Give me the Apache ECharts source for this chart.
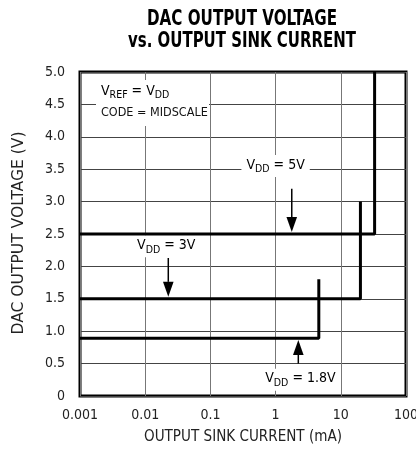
<!DOCTYPE html>
<html><head><meta charset="utf-8">
<script src="https://cdn.jsdelivr.net/npm/echarts@6/dist/echarts.min.js"></script>
<style>html,body{margin:0;padding:0;background:#fff}#c{width:416px;height:454px}</style>
</head><body><div id="c"></div>
<script>
const FONT = "'Liberation Sans Narrow','DejaVu Sans Condensed','Liberation Sans',sans-serif";
const xTicks = [0.001, 0.01, 0.1, 1, 10, 100];
const xTickLabels = ['0.001', '0.01', '0.1', '1', '10', '100'];
const yTickLabels = ['0', '0.5', '1.0', '1.5', '2.0', '2.5', '3.0', '3.5', '4.0', '4.5', '5.0'];
// [current mA, voltage V]
const vdd5 = [[0.001, 2.5], [33, 2.5], [33, 5.0]];
const vdd3 = [[0.001, 1.5], [20, 1.5], [20, 3.0]];
const vdd18 = [[0.001, 0.89], [4.6, 0.89], [4.6, 1.8]];
// annotation labels: [x, y, text]
const labels = [
  [1, 3.55, '{m|V}{s|DD}{m| = 5V}'],
  [0.021, 2.31, '{m|V}{s|DD}{m| = 3V}'],
  [2.4, 0.25, '{m|V}{s|DD}{m| = 1.8V}']
];
// arrows: [x, yFrom, yTo(tip)]
const arrows = [
  [1.77, 3.2, 2.53],
  [0.0226, 2.13, 1.53],
  [2.23, 0.5, 0.865]
];

const cv = document.createElement('canvas').getContext('2d');
function textW(t, size, weight) { cv.font = (weight || 'normal') + ' ' + size + 'px ' + FONT; return cv.measureText(t).width; }
const t1 = 'DAC OUTPUT VOLTAGE', t2 = 'vs. OUTPUT SINK CURRENT';
const tSize = 21;
const t1s = 190 / textW(t1, tSize, 'bold');
const t2s = 228 / textW(t2, tSize, 'bold');
const xName = 'OUTPUT SINK CURRENT (mA)', yName = 'DAC OUTPUT VOLTAGE (V)';
const nSize = 15;
const xNs = Math.min(1.3, 198 / textW(xName, nSize));
const yNs = Math.min(1.3, 203 / textW(yName, nSize));

const chart = echarts.init(document.getElementById('c'));
const rich = {
  m: {fontFamily: FONT, fontSize: 14, color: '#000', lineHeight: 16, verticalAlign: 'top'},
  s: {fontFamily: FONT, fontSize: 10.5, color: '#000', lineHeight: 16, verticalAlign: 'top', padding: [6, 0, 0, 0]}
};
const curve = (d) => ({type: 'line', data: d, symbol: 'none', lineStyle: {color: '#000', width: 3}, z: 5, silent: true, animation: false});

chart.setOption({
  animation: false,
  grid: {left: 80, right: 10, top: 72, bottom: 58, show: true, borderColor: '#000', borderWidth: 3,
    outerBoundsMode: 'none', containLabel: false},
  xAxis: {
    type: 'log', logBase: 10, min: 0.001, max: 100,
    axisLine: {show: false}, axisTick: {show: false},
    axisLabel: {fontFamily: FONT, fontSize: 14, color: '#222', margin: 12, hideOverlap: false,
      formatter: (v) => { const i = xTicks.findIndex(t => Math.abs(Math.log10(t) - Math.log10(v)) < 1e-6); return i >= 0 ? xTickLabels[i] : ''; }},
    splitLine: {show: true, lineStyle: {color: '#777', width: 1}},
    minorSplitLine: {show: false}
  },
  yAxis: {
    type: 'value', min: 0, max: 5, interval: 0.5,
    axisLine: {show: false}, axisTick: {show: false},
    axisLabel: {fontFamily: FONT, fontSize: 14, color: '#222', margin: 15,
      formatter: (v) => yTickLabels[Math.round(v / 0.5)]},
    splitLine: {show: true, lineStyle: {color: '#444', width: 1}}
  },
  graphic: [
    {type: 'text', x: 242, y: 19.5, scaleX: t1s, z: 4,
      style: {text: t1, fontFamily: FONT, fontWeight: 'bold', fontSize: tSize, fill: '#000', align: 'center', verticalAlign: 'middle'}},
    {type: 'text', x: 242, y: 41.5, scaleX: t2s, z: 4,
      style: {text: t2, fontFamily: FONT, fontWeight: 'bold', fontSize: tSize, fill: '#000', align: 'center', verticalAlign: 'middle'}},
    {type: 'text', x: 243, y: 437, scaleX: xNs, z: 4,
      style: {text: xName, fontFamily: FONT, fontSize: nSize, fill: '#222', align: 'center', verticalAlign: 'middle'}},
    {type: 'text', x: 19, y: 233, rotation: Math.PI / 2, scaleX: yNs, z: 4,
      style: {text: yName, fontFamily: FONT, fontSize: nSize, fill: '#222', align: 'center', verticalAlign: 'middle'}},
    {type: 'rect', shape: {x: 96, y: 80, width: 113, height: 46}, style: {fill: '#fff'}, z: 3},
    {type: 'text', x: 101, y: 84, z: 4, style: {text: '{m|V}{s|REF}{m| = V}{s|DD}', rich: rich}},
    {type: 'text', x: 101, y: 106, z: 4, style: {text: 'CODE = MIDSCALE', fontFamily: FONT, fontSize: 12.5, fill: '#111'}},
    {type: 'text', x: 415, y: 72, rotation: -Math.PI / 2, z: 4,
      style: {text: 'MAX5530 toc17', fontFamily: FONT, fontSize: 9, fill: '#666', align: 'left', verticalAlign: 'bottom'}}
  ],
  series: [
    curve(vdd5), curve(vdd3), curve(vdd18),
    {
      type: 'scatter', symbolSize: 0, z: 4, silent: true, itemStyle: {opacity: 1},
      data: labels.map(l => ({value: [l[0], l[1]], label: {formatter: l[2]}})),
      label: {show: true, position: 'inside', color: '#000', opacity: 1, backgroundColor: '#fff', padding: [3, 5, 3, 5], rich: rich}
    },
    {
      type: 'custom', z: 6, silent: true,
      data: arrows,
      encode: {x: 0, y: [1, 2]},
      renderItem: function (params, api) {
        const p0 = api.coord([api.value(0), api.value(1)]);
        const p1 = api.coord([api.value(0), api.value(2)]);
        const dir = p1[1] > p0[1] ? 1 : -1;
        const hl = 15, hw = 5.3;
        const base = p1[1] - dir * hl;
        return {type: 'group', children: [
          {type: 'line', shape: {x1: p0[0], y1: p0[1], x2: p0[0], y2: base}, style: {stroke: '#000', lineWidth: 1.5}},
          {type: 'polygon', shape: {points: [[p1[0], p1[1]], [p1[0] - hw, base], [p1[0] + hw, base]]}, style: {fill: '#000'}}
        ]};
      }
    }
  ]
});
</script></body></html>
